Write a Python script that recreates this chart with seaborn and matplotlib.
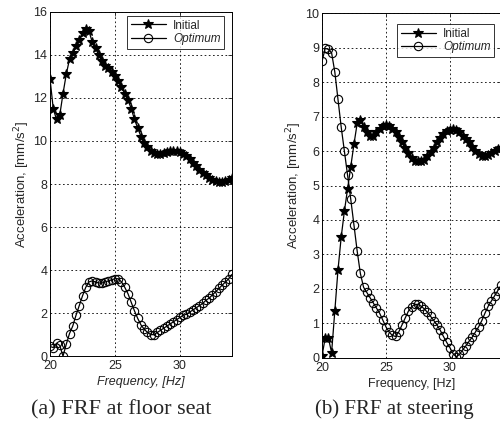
import numpy as np
import pandas as pd
import seaborn as sns
import matplotlib.pyplot as plt

# frequency grid, Hz
freq = [20.0, 20.25, 20.5, 20.75, 21.0, 21.25, 21.5, 21.75, 22.0, 22.25, 22.5, 22.75,
        23.0, 23.25, 23.5, 23.75, 24.0, 24.25, 24.5, 24.75, 25.0, 25.25, 25.5, 25.75,
        26.0, 26.25, 26.5, 26.75, 27.0, 27.25, 27.5, 27.75, 28.0, 28.25, 28.5, 28.75,
        29.0, 29.25, 29.5, 29.75, 30.0, 30.25, 30.5, 30.75, 31.0, 31.25, 31.5, 31.75,
        32.0, 32.25, 32.5, 32.75, 33.0, 33.25, 33.5, 33.75, 34.0]

# (a) floor seat
seat_initial = [12.9, 11.5, 11.0, 11.2, 12.2, 13.1, 13.8, 14.1, 14.4, 14.7, 15.0, 15.2,
                15.1, 14.6, 14.3, 14.0, 13.7, 13.5, 13.4, 13.2, 13.0, 12.8, 12.5, 12.2,
                11.9, 11.5, 11.0, 10.6, 10.2, 9.9, 9.7, 9.55, 9.45, 9.4, 9.4, 9.45,
                9.5, 9.55, 9.55, 9.55, 9.5, 9.4, 9.3, 9.15, 9.0, 8.85, 8.65, 8.5,
                8.4, 8.3, 8.2, 8.15, 8.1, 8.1, 8.15, 8.2, 8.3]
seat_optimum = [0.45, 0.4, 0.6, 0.5, 0.0, 0.55, 1.05, 1.4, 1.9, 2.35, 2.8, 3.2,
                3.45, 3.5, 3.45, 3.4, 3.4, 3.45, 3.5, 3.55, 3.6, 3.6, 3.45, 3.2,
                2.9, 2.5, 2.1, 1.75, 1.45, 1.25, 1.1, 1.0, 1.0, 1.1, 1.2, 1.3,
                1.4, 1.5, 1.6, 1.7, 1.8, 1.9, 1.95, 2.05, 2.15, 2.25, 2.35, 2.45,
                2.6, 2.7, 2.85, 3.0, 3.15, 3.3, 3.45, 3.6, 3.8]

# (b) steering
steer_initial = [0.05, 0.58, 0.58, 0.15, 1.35, 2.55, 3.5, 4.25, 4.9, 5.55, 6.2, 6.8,
                 6.9, 6.7, 6.55, 6.45, 6.45, 6.55, 6.65, 6.72, 6.75, 6.72, 6.65, 6.55,
                 6.4, 6.25, 6.1, 5.95, 5.8, 5.72, 5.7, 5.7, 5.75, 5.85, 5.98, 6.1,
                 6.25, 6.38, 6.5, 6.58, 6.62, 6.65, 6.62, 6.55, 6.45, 6.35, 6.25, 6.12,
                 6.0, 5.92, 5.87, 5.85, 5.88, 5.95, 6.0, 6.05, 6.1]
steer_optimum = [8.6, 8.98, 8.95, 8.85, 8.3, 7.5, 6.7, 6.0, 5.3, 4.6, 3.85, 3.1,
                 2.45, 2.05, 1.9, 1.75, 1.6, 1.45, 1.3, 1.1, 0.9, 0.75, 0.65, 0.62,
                 0.75, 0.95, 1.15, 1.35, 1.48, 1.55, 1.55, 1.5, 1.42, 1.32, 1.2, 1.08,
                 0.95, 0.8, 0.62, 0.45, 0.3, 0.12, 0.03, 0.1, 0.23, 0.35, 0.48, 0.6,
                 0.75, 0.9, 1.08, 1.3, 1.5, 1.65, 1.8, 1.95, 2.1]

captions = ["(a) FRF at floor seat", "(b) FRF at steering"]
ylabel = "Acceleration, [mm/s$^2$]"
xlabel = "Frequency, [Hz]"


def draw(ax, initial, optimum, ymax, ystep, italic_x, legend_anchor):
    df = pd.DataFrame({"f": freq, "Initial": initial, "Optimum": optimum})
    sns.lineplot(data=df, x="f", y="Initial", ax=ax, color="black", lw=0.9,
                 marker="*", markersize=7.5, markeredgewidth=0.8, markeredgecolor="black",
                 label="Initial")
    sns.lineplot(data=df, x="f", y="Optimum", ax=ax, color="black", lw=0.9,
                 marker="o", markersize=6, markerfacecolor="none",
                 markeredgecolor="black", markeredgewidth=0.8, label="Optimum")
    ax.set_xlim(20, 34)
    ax.set_ylim(0, ymax)
    ax.set_xticks([20, 25, 30])
    ax.set_yticks(np.arange(0, ymax + 0.1, ystep))
    ax.grid(True, color="black", linestyle=(0, (2, 3)), linewidth=0.6)
    ax.tick_params(direction="in", top=True, right=True, labelsize=9,
                   length=3, width=0.6, pad=2)
    ax.tick_params(axis="x", pad=3)
    for s in ax.spines.values():
        s.set_linewidth(0.7)
        s.set_color("black")
    ax.set_ylabel(ylabel, fontsize=9.5, labelpad=1)
    ax.set_xlabel(xlabel, fontsize=9, labelpad=3,
                  fontstyle="italic" if italic_x else "normal")
    leg = ax.legend(loc="upper right", bbox_to_anchor=legend_anchor,
                    fontsize=8.5, frameon=True, fancybox=False, edgecolor="black",
                    handlelength=3.0, borderpad=0.3, labelspacing=0.15,
                    handletextpad=0.6, borderaxespad=0.2)
    leg.get_frame().set_linewidth(0.7)
    leg.get_texts()[1].set_fontstyle("italic")


sns.set_style("white")
plt.rcParams["font.family"] = ["Liberation Sans", "DejaVu Sans"]

fig = plt.figure(figsize=(5, 4.25), dpi=100)
ax1 = fig.add_axes([0.1, 0.162, 0.364, 0.81])
ax2 = fig.add_axes([0.644, 0.158, 0.358, 0.811])

draw(ax1, seat_initial, seat_optimum, 16, 2, True, (0.97, 0.995))
draw(ax2, steer_initial, steer_optimum, 10, 1, False, (0.975, 0.975))

fig.text(0.243, 0.037, captions[0], ha="center", va="center",
         fontsize=16, family="Liberation Serif")
fig.text(0.788, 0.037, captions[1], ha="center", va="center",
         fontsize=15, family="Liberation Serif")

fig.savefig("out.png", dpi=100)
